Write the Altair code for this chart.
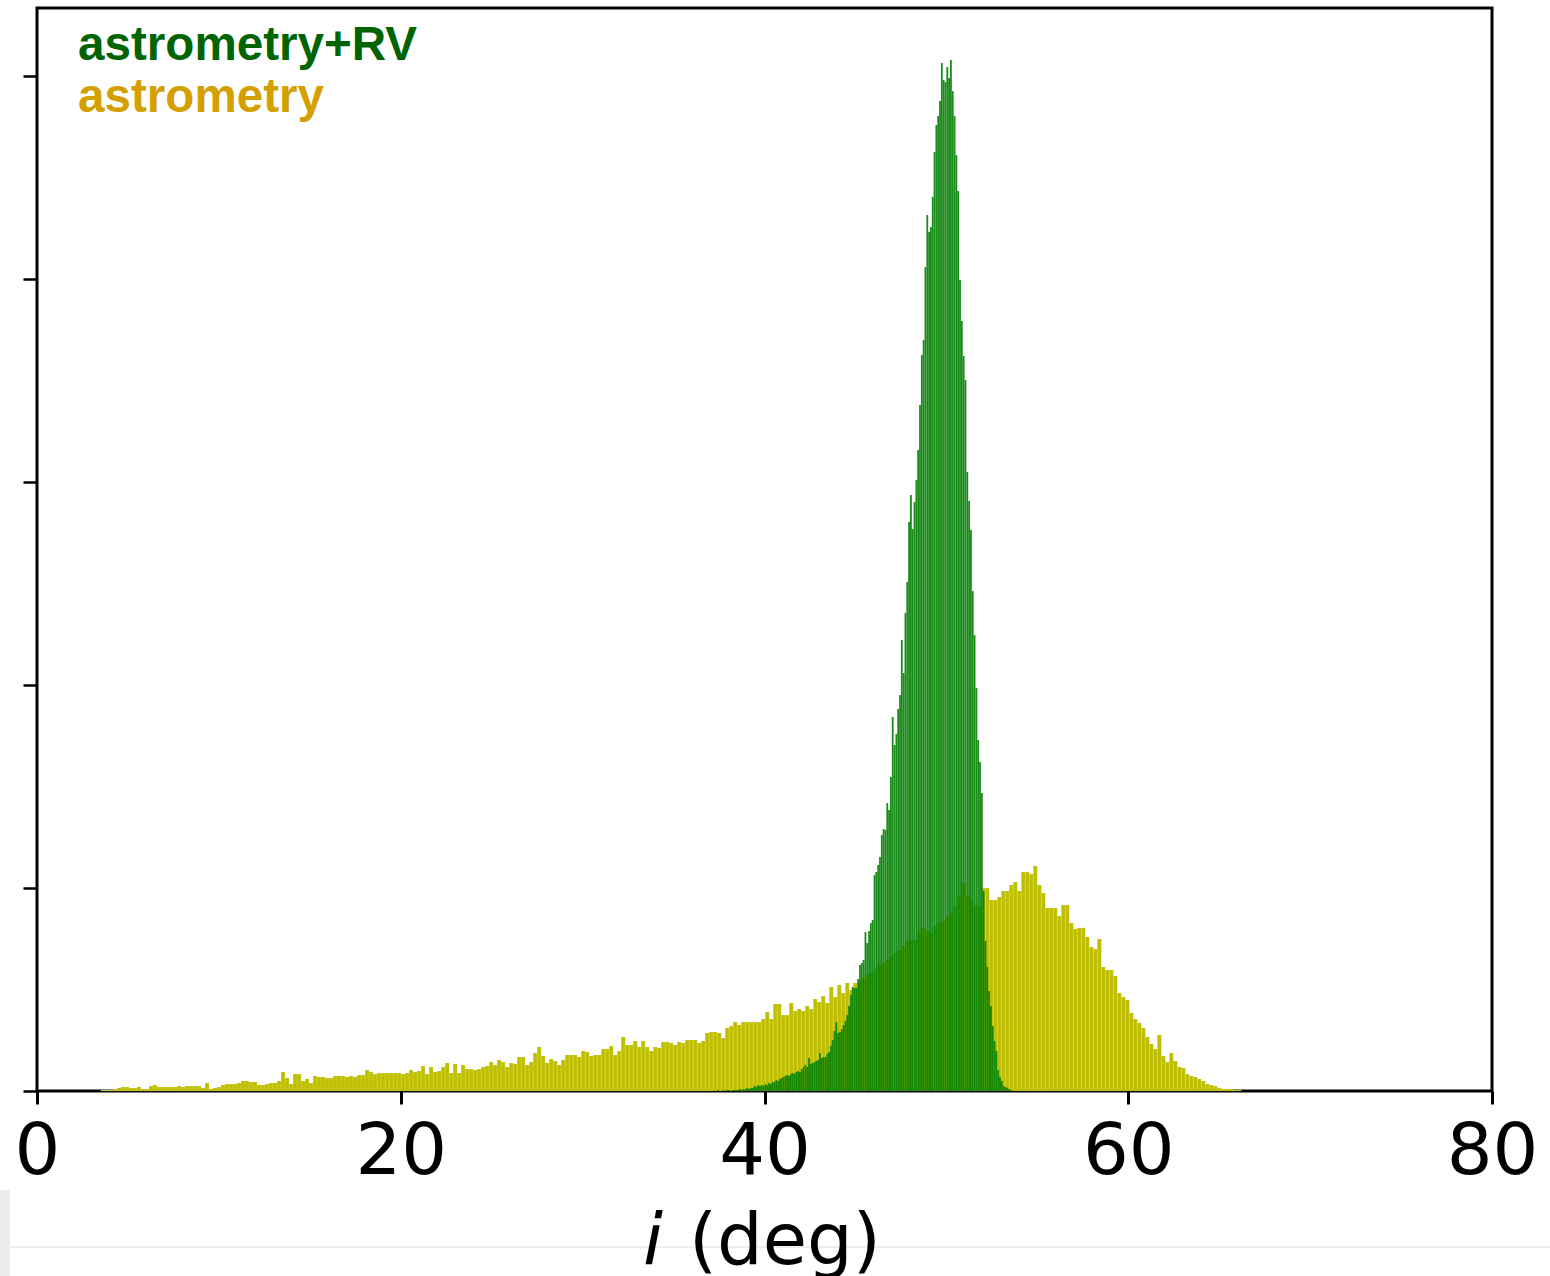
import altair as alt
import pandas as pd

# ---------------- data ----------------
# Histogram of inclination i (deg); counts in arbitrary units (plot units)
YELLOW_START = 3.52   # first bin edge (deg), "astrometry"
YELLOW_WIDTH = 0.22   # bin width (deg)
yellow_counts = [
    1, 1, 1, 2, 3, 4, 4, 3, 3, 4, 2, 2, 5, 6, 4, 4, 4, 4, 4, 5,
    4, 5, 5, 5, 5, 3, 8, 2, 3, 4, 6, 7, 7, 7, 8, 10, 10, 9, 9, 6,
    6, 7, 8, 8, 10, 19, 13, 7, 17, 17, 10, 12, 8, 15, 14, 14, 13, 13, 15, 15,
    15, 14, 15, 14, 16, 16, 21, 19, 17, 18, 18, 18, 18, 18, 18, 17, 18, 21, 19, 20,
    25, 17, 24, 19, 20, 24, 28, 18, 27, 18, 26, 22, 22, 21, 22, 24, 25, 29, 26, 31,
    29, 24, 28, 27, 34, 34, 26, 29, 38, 44, 35, 28, 32, 30, 26, 31, 36, 36, 36, 34,
    40, 39, 35, 36, 36, 42, 42, 45, 36, 40, 54, 46, 46, 50, 44, 50, 44, 40, 44, 43,
    49, 49, 48, 46, 49, 48, 51, 51, 51, 48, 50, 58, 59, 59, 58, 53, 63, 65, 69, 66,
    69, 69, 69, 69, 69, 72, 79, 72, 87, 87, 76, 76, 88, 80, 82, 80, 85, 82, 92, 89,
    95, 88, 104, 94, 106, 98, 108, 101, 108, 109, 113, 116, 118, 122, 126, 128, 131, 135, 138, 141,
    145, 150, 151, 151, 158, 163, 160, 158, 165, 168, 170, 175, 178, 185, 195, 208, 195, 191, 186, 184,
    203, 203, 191, 191, 194, 200, 200, 206, 209, 200, 219, 219, 217, 225, 206, 198, 183, 183, 183, 175,
    186, 186, 168, 162, 163, 163, 154, 144, 142, 152, 124, 121, 121, 115, 98, 94, 91, 78, 72, 68,
    63, 54, 47, 42, 56, 35, 29, 38, 30, 24, 23, 17, 15, 14, 12, 10, 7, 6, 5, 3,
    2, 2, 2, 1, 1,
]

GREEN_START = 37.4    # first bin edge (deg), "astrometry+RV"
GREEN_WIDTH = 0.1     # bin width (deg)
green_counts = [
    1, 0, 0, 1, 0, 1, 1, 0, 1, 1, 1, 1, 2, 1, 2, 2, 3, 2, 3, 3,
    5, 4, 6, 5, 6, 5, 7, 6, 8, 7, 9, 9, 11, 10, 12, 13, 14, 15, 16, 15,
    17, 18, 17, 19, 20, 19, 22, 24, 26, 24, 33, 27, 28, 29, 30, 31, 38, 33, 34, 34,
    37, 39, 45, 51, 60, 69, 58, 59, 62, 66, 70, 76, 85, 96, 104, 103, 103, 112, 126, 128,
    131, 159, 148, 160, 168, 171, 216, 219, 226, 234, 256, 262, 261, 288, 281, 314, 374, 346, 357, 382,
    396, 451, 418, 478, 509, 569, 596, 562, 589, 611, 641, 686, 736, 751, 824, 876, 859, 864, 894, 939,
    966, 975, 990, 1028, 1011, 1009, 1024, 1013, 1031, 1000, 975, 936, 900, 811, 770, 735, 711, 619, 590, 561,
    500, 456, 403, 351, 329, 298, 200, 150, 124, 100, 85, 65, 50, 40, 21, 14, 10, 5, 4, 3,
    2, 1,
]

x_ticks = [0, 20, 40, 60, 80]
y_ticks = [0, 203, 406, 609, 812, 1015]
x_domain = [0, 80]
y_domain = [0, 1083]

legend_labels = ["astrometry+RV", "astrometry"]
legend_colors = ["#006400", "#d4a000"]
title_parts = ["i", "(deg)"]

# ---------------- build tables ----------------
def hist_frame(start, width, counts):
    n = len(counts)
    return pd.DataFrame({
        "lo": [start + k * width for k in range(n)],
        "hi": [start + (k + 1) * width for k in range(n)],
        "count": counts,
        "base": [0] * n,
    })

yellow_df = hist_frame(YELLOW_START, YELLOW_WIDTH, yellow_counts)
green_df = hist_frame(GREEN_START, GREEN_WIDTH, green_counts)

W, H = 1455, 1083

x_enc = alt.X(
    "lo:Q",
    scale=alt.Scale(domain=x_domain, nice=False, zero=False),
    axis=alt.Axis(
        values=x_ticks, title=None, format="d",
        labelFont="DejaVu Sans", labelFontSize=72, labelColor="black",
        labelPadding=12, tickSize=13, tickWidth=3, tickColor="black",
        domain=False, grid=False, labelFlush=False,
    ),
)
y_enc = alt.Y(
    "count:Q",
    scale=alt.Scale(domain=y_domain, nice=False),
    axis=alt.Axis(
        values=y_ticks, labels=False, title=None,
        tickSize=14, tickWidth=2.5, tickColor="black",
        domain=False, grid=False,
    ),
)

yellow = alt.Chart(yellow_df).mark_rect(
    color="#bfbf00", stroke="white", strokeWidth=0.3, strokeOpacity=0.4
).encode(x=x_enc, x2="hi:Q", y=y_enc, y2="base:Q")

green = alt.Chart(green_df).mark_rect(
    color="#008000", fillOpacity=0.9, stroke="white", strokeWidth=0.2, strokeOpacity=0.15
).encode(x="lo:Q", x2="hi:Q", y="count:Q", y2="base:Q")

# faint page artefacts seen at the bottom of the reference
sep_line = alt.Chart(pd.DataFrame({"k": [0]})).mark_rule(
    color="#dcdcdc", strokeWidth=1
).encode(x=alt.value(-27), x2=alt.value(1513), y=alt.value(1239))

side_block = alt.Chart(pd.DataFrame({"k": [0]})).mark_rect(
    color="#ececec"
).encode(x=alt.value(-37), x2=alt.value(-27), y=alt.value(1182), y2=alt.value(1268))

leg1 = alt.Chart(pd.DataFrame({"t": [legend_labels[0]]})).mark_text(
    align="left", baseline="alphabetic", font="Liberation Sans", fontWeight="bold",
    fontSize=47.6, color=legend_colors[0],
).encode(text="t:N", x=alt.value(41), y=alt.value(52))

leg2 = alt.Chart(pd.DataFrame({"t": [legend_labels[1]]})).mark_text(
    align="left", baseline="alphabetic", font="Liberation Sans", fontWeight="bold",
    fontSize=47.6, color=legend_colors[1],
).encode(text="t:N", x=alt.value(41), y=alt.value(104))

title_i = alt.Chart(pd.DataFrame({"t": [title_parts[0]]})).mark_text(
    align="left", baseline="alphabetic", font="DejaVu Sans", fontStyle="italic",
    fontSize=72, color="black",
).encode(text="t:N", x=alt.value(606), y=alt.value(1256))

title_rest = alt.Chart(pd.DataFrame({"t": [title_parts[1]]})).mark_text(
    align="left", baseline="alphabetic", font="DejaVu Sans",
    fontSize=72, color="black",
).encode(text="t:N", x=alt.value(652), y=alt.value(1256))

chart = alt.layer(
    yellow, green, sep_line, side_block, leg1, leg2, title_i, title_rest
).properties(
    width=W, height=H,
    autosize=alt.AutoSizeParams(type="none"),
    padding={"left": 37, "top": 8, "right": 58, "bottom": 185},
    background="white",
).configure_view(stroke="black", strokeWidth=3)

chart.save("out.html", embed_options={"renderer": "svg", "actions": False})
